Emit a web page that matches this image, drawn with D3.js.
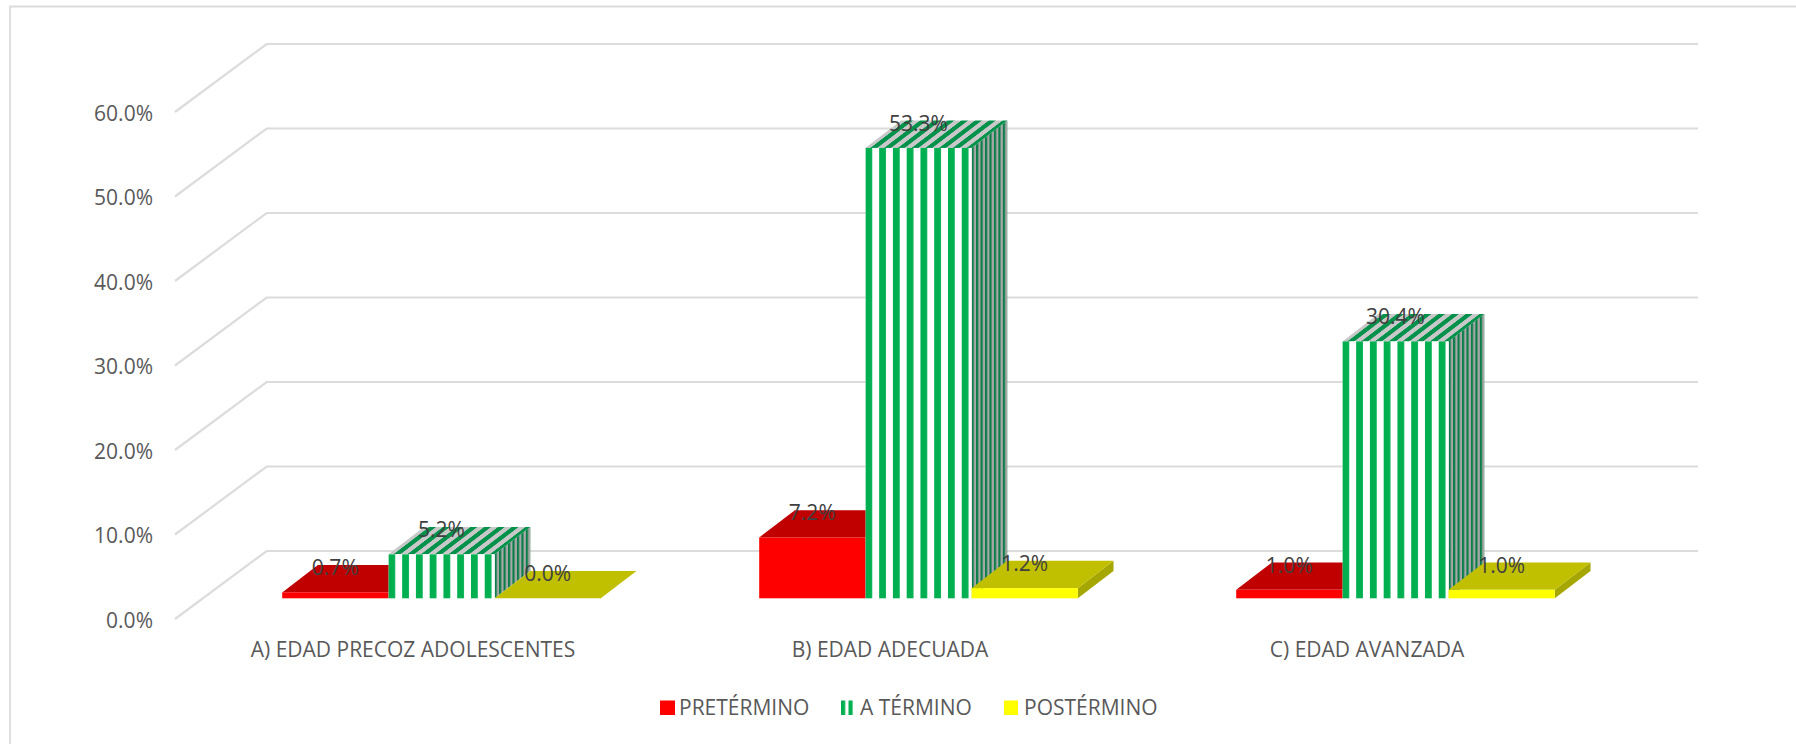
<!DOCTYPE html>
<html>
<head>
<meta charset="utf-8">
<script src="https://cdn.jsdelivr.net/npm/d3@7"></script>
<style>
  html, body { margin: 0; padding: 0; background: #fff; }
  svg { display: block; }
  text { font-family: "Open Sans", sans-serif; }
</style>
</head>
<body>
<svg id="chart" width="1796" height="744"></svg>
<script>
'use strict';
const categories = ['A) EDAD PRECOZ ADOLESCENTES', 'B) EDAD ADECUADA', 'C) EDAD AVANZADA'];
const seriesNames = ['PRETÉRMINO', 'A TÉRMINO', 'POSTÉRMINO'];
const pretermino = [0.7, 7.2, 1.0];
const aTermino = [5.2, 53.3, 30.4];
const postermino = [0.0, 1.2, 1.0];
const yTicks = [0, 10, 20, 30, 40, 50, 60];

const seriesValues = [pretermino, aTermino, postermino];
const faces = [
    { front: '#ff0000', top: '#c00000', side: '#900000' },
    { front: 'url(#stripe-front)', top: 'url(#stripe-top)', side: 'url(#stripe-side)' },
    { front: '#ffff00', top: '#c0c000', side: '#a6a600' }
];

const svg = d3.select('#chart');
const defs = svg.append('defs');

// 3D projection of the Excel chart
const wall = { dx: 91.7, dy: -68 };
const barDepth = { dx: 35.7, dy: -27.3 };
const floorLift = 20.7;

const y = d3.scaleLinear().domain([0, 60]).range([619, 112]);
const x0 = d3.scaleBand().domain(categories).range([203, 1634]).paddingInner(158.4 / 477).paddingOuter(158.4 / 954);
const x1 = d3.scaleBand().domain(seriesNames).range([0, x0.bandwidth()]);

function stripes(id, period, stripe, bg, fg, transform) {
    const p = defs.append('pattern')
        .attr('id', id)
        .attr('patternUnits', 'userSpaceOnUse')
        .attr('width', period)
        .attr('height', 20);
    if (transform) p.attr('patternTransform', transform);
    p.append('rect').attr('width', period).attr('height', 20).attr('fill', bg);
    p.append('rect').attr('width', stripe).attr('height', 20).attr('fill', fg);
}

stripes('legend-stripe', 7.5, 4.2, '#ffffff', '#00b050', 'translate(841,0)');

/* Frame */
svg.append('path')
    .attr('d', 'M10,744V6.5H1796')
    .attr('fill', 'none')
    .attr('stroke', '#dcdcdc')
    .attr('stroke-width', 1.8);

/* Grid */
const grid = svg.append('g').attr('class', 'grid');
grid.selectAll('path')
    .data(yTicks)
    .join('path')
    .attr('d', d => `M175,${y(d)}L${175 + wall.dx},${y(d) + wall.dy}H1698`)
    .attr('fill', 'none')
    .attr('stroke', '#dcdcdc')
    .attr('stroke-width', 2.2);

/* Axis */
const axis = svg.append('g')
    .attr('transform', 'translate(153,1.5)')
    .call(d3.axisLeft(y).tickValues(yTicks).tickSize(0).tickPadding(0).tickFormat(d => d.toFixed(1) + '%'));
axis.select('.domain').remove();
axis.selectAll('text')
    .attr('fill', '#595959')
    .style('font-size', '21px');

/* Bars */
const bars = [];
categories.forEach((c, i) => {
    seriesNames.forEach((s, j) => {
        const left = x0(c) + x1(s);
        const base = y(0) - floorLift;
        const top = y(seriesValues[j][i]) - floorLift;
        bars.push({ c, s, i, j, left, right: left + x1.bandwidth(), base, top, value: seriesValues[j][i] });
    });
});

// green bars keep their stripes aligned to their own left edge
bars.filter(b => b.j === 1).forEach(b => {
    const shear = Math.atan2(barDepth.dx, -barDepth.dy) * 180 / Math.PI;
    stripes('front-' + b.i, 13.76, 6.8, '#ffffff', '#00b050', `translate(${b.left},0)`);
    stripes('top-' + b.i, 13.76, 6.8, '#c8c8c8', '#00914a', `translate(${b.left + 5},${b.top}) skewX(${-shear})`);
    stripes('side-' + b.i, 4.46, 2.2, '#a8a8a8', '#0b7d48', `translate(${b.right},0)`);
});

const fill = (b, face) => b.j === 1 ? `url(#${face}-${b.i})` : faces[b.j][face];

const barGroups = svg.append('g').attr('class', 'bars')
    .selectAll('g')
    .data(bars)
    .join('g');

barGroups.append('path')
    .attr('d', b => `M${b.right},${b.base}V${b.top}l${barDepth.dx},${barDepth.dy}V${b.base + barDepth.dy}Z`)
    .attr('fill', b => fill(b, 'side'));
barGroups.append('path')
    .attr('d', b => `M${b.left},${b.top}H${b.right}l${barDepth.dx},${barDepth.dy}H${b.left + barDepth.dx}Z`)
    .attr('fill', b => fill(b, 'top'));
barGroups.append('rect')
    .attr('x', b => b.left)
    .attr('y', b => b.top)
    .attr('width', x1.bandwidth())
    .attr('height', b => b.base - b.top)
    .attr('fill', b => fill(b, 'front'));

/* Data labels */
svg.append('g').attr('class', 'labels')
    .selectAll('text')
    .data(bars)
    .join('text')
    .attr('x', b => (b.left + b.right) / 2)
    .attr('y', b => b.top - 24.5)
    .attr('dy', '0.35em')
    .attr('text-anchor', 'middle')
    .attr('fill', '#404040')
    .style('font-size', '21px')
    .text(b => b.value.toFixed(1) + '%');

/* Category labels */
svg.append('g').attr('class', 'categories')
    .selectAll('text')
    .data(categories)
    .join('text')
    .attr('x', c => x0(c) + x0.bandwidth() / 2 - 28.5)
    .attr('y', 649.5)
    .attr('dy', '0.35em')
    .attr('text-anchor', 'middle')
    .attr('fill', '#595959')
    .style('font-size', '21px')
    .text(c => c);

/* Legend */
const legendX = [660, 841, 1004];
const legendW = [15, 12.5, 14];
const legendText = [679, 860, 1024];
const legend = svg.append('g').attr('class', 'legend')
    .selectAll('g')
    .data(seriesNames)
    .join('g');
legend.append('rect')
    .attr('x', (d, i) => legendX[i])
    .attr('y', 700.5)
    .attr('width', (d, i) => legendW[i])
    .attr('height', 14.5)
    .attr('fill', (d, i) => i === 1 ? 'url(#legend-stripe)' : faces[i].front);
legend.append('text')
    .attr('x', (d, i) => legendText[i])
    .attr('y', 708)
    .attr('dy', '0.35em')
    .attr('fill', '#595959')
    .style('font-size', '21px')
    .text(d => d);
</script>
</body>
</html>
